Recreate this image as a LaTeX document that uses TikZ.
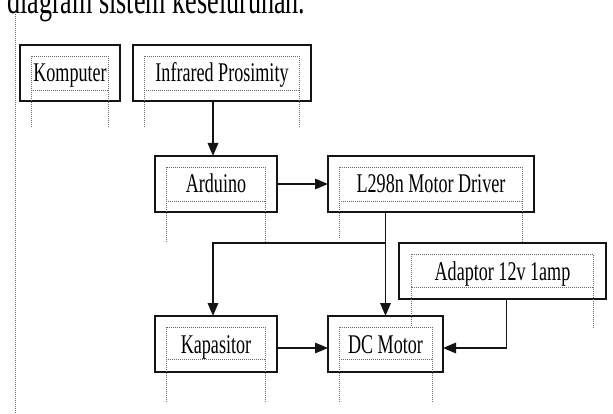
\documentclass[tikz,border=0pt]{standalone}
\usepackage{fontspec}
\setmainfont{Liberation Serif}[FakeStretch=0.67]
\usetikzlibrary{arrows.meta}
\definecolor{blokDark}{RGB}{20,20,20}
\definecolor{frameGray}{RGB}{105,105,105}

\begin{document}
\begin{tikzpicture}[x=1pt,y=1pt,
      blok/.style={draw=blokDark,line width=1.9pt,outer sep=0pt,inner sep=0pt,minimum height=56pt,text height=19pt,text depth=1pt,font=\fontsize{27}{30}\selectfont},
      tbframe/.style={draw=frameGray,line width=0.9pt,dash pattern=on 1pt off 1pt},
      arr/.style={-{Triangle[length=13pt,width=10.5pt]},blokDark,line width=1.7pt}]
    \useasboundingbox (0,0) rectangle (613,-414);
    \clip (0,0) rectangle (613,-414);
    \node[anchor=base west,inner sep=0pt,font=\fontsize{39}{44}\selectfont] (judul) at (7,-14) {diagram sistem keseluruhan.};
    \draw[tbframe] (15,-10) -- (15,-414);
    \node[blok,minimum width=100pt] (komp) at (70,-73) {Komputer};
    \node[blok,minimum width=178pt] (infra) at (222,-73) {Infrared Prosimity};
    \node[blok,minimum width=122pt] (ardu) at (216,-184) {Arduino};
    \node[blok,minimum width=206pt] (driver) at (431,-184) {L298n Motor Driver};
    \node[blok,minimum width=207pt] (adapt) at (502.5,-271) {Adaptor 12v 1amp};
    \node[blok,minimum width=122pt] (kapas) at (216,-344) {Kapasitor};
    \node[blok,minimum width=115pt] (motor) at (385.5,-344) {DC Motor};
    \draw[tbframe] ([shift={(11,-11)}]komp.north west) rectangle ([shift={(-12,11)}]komp.south east);
    \draw[tbframe] ([shift={(11,11)}]komp.south west) -- ++(0,-37) ([shift={(-12,11)}]komp.south east) -- ++(0,-37);
    \draw[tbframe] ([shift={(11,-11)}]infra.north west) rectangle ([shift={(-12,11)}]infra.south east);
    \draw[tbframe] ([shift={(11,11)}]infra.south west) -- ++(0,-37) ([shift={(-12,11)}]infra.south east) -- ++(0,-37);
    \draw[tbframe] ([shift={(11,-11)}]ardu.north west) rectangle ([shift={(-12,11)}]ardu.south east);
    \draw[tbframe] ([shift={(11,11)}]ardu.south west) -- ++(0,-41) ([shift={(-12,11)}]ardu.south east) -- ++(0,-41);
    \draw[tbframe] ([shift={(11,-11)}]driver.north west) rectangle ([shift={(-12,11)}]driver.south east);
    \draw[tbframe] ([shift={(11,11)}]driver.south west) -- ++(0,-38) ([shift={(-12,11)}]driver.south east) -- ++(0,-41);
    \draw[tbframe] ([shift={(12,-11)}]adapt.north west) rectangle ([shift={(-13,12)}]adapt.south east);
    \draw[tbframe] ([shift={(12,12)}]adapt.south west) -- ++(0,-40) ([shift={(-13,12)}]adapt.south east) -- ++(0,-41);
    \draw[tbframe] ([shift={(11,-11)}]kapas.north west) rectangle ([shift={(-12,13)}]kapas.south east);
    \draw[tbframe] ([shift={(11,13)}]kapas.south west) -- ++(0,-43) ([shift={(-12,13)}]kapas.south east) -- ++(0,-43);
    \draw[tbframe] ([shift={(11,-11)}]motor.north west) rectangle ([shift={(-11,13)}]motor.south east);
    \draw[tbframe] ([shift={(11,13)}]motor.south west) -- ++(0,-44) ([shift={(-11,13)}]motor.south east) -- ++(0,-44);
    \coordinate (ardIn) at ([xshift=-3pt]ardu.north);
    \coordinate (kapIn) at ([xshift=-3pt]kapas.north);
    \coordinate (adOut) at ([xshift=4pt]adapt.south);
    \coordinate (kapOut) at ([yshift=-4pt]kapas.east);
    \coordinate (motIn) at ([yshift=-4pt]motor.east);
    \draw[arr] (ardIn |- infra.south) -- (ardIn);
    \draw[arr] (ardu) -- (driver);
    \draw[arr] (motor.north |- driver.south) -- (motor.north);
    \draw[arr] (motor.north |- adapt.north) -| (kapIn);
    \draw[arr] (adOut) |- (motIn);
    \draw[arr] (kapOut) -- (kapOut -| motor.west);
  \end{tikzpicture}
\end{document}
